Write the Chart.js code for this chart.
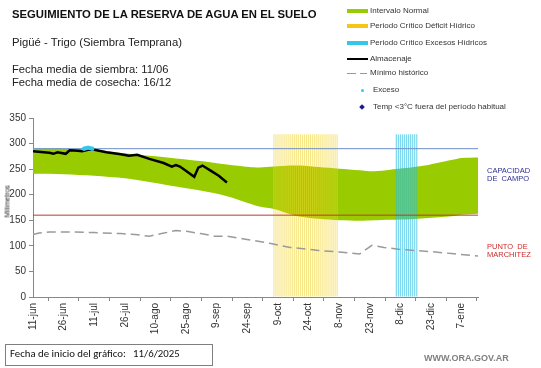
<!DOCTYPE html>
<html>
<head>
<meta charset="utf-8">
<script src="https://cdn.jsdelivr.net/npm/chart.js@4"></script>
<style>
  body { margin: 0; background: #fff; }
  #wrap { position: relative; width: 541px; height: 368px; font-family: Arial, "Liberation Sans", sans-serif; }
  #chart { position: absolute; left: 0; top: 0; }
  .t { position: absolute; white-space: nowrap; line-height: 1; color: #111; }
  .lg { position: absolute; white-space: nowrap; line-height: 1; font-size: 8px; color: #333; }
  .sw { position: absolute; width: 21px; height: 4px; }
</style>
</head>
<body>
<div id="wrap">
  <canvas id="chart" width="541" height="368"></canvas>

  <div class="t" style="left:12px;top:9px;font-size:11.3px;font-weight:bold;">SEGUIMIENTO DE LA RESERVA DE AGUA EN EL SUELO</div>
  <div class="t" style="left:12px;top:37px;font-size:11.3px;color:#222;">Pigüé - Trigo (Siembra Temprana)</div>
  <div class="t" style="left:12px;top:64px;font-size:11.2px;color:#222;">Fecha media de siembra: 11/06</div>
  <div class="t" style="left:12px;top:77px;font-size:11.2px;color:#222;">Fecha media de cosecha: 16/12</div>

  <!-- legend -->
  <div class="sw" style="left:347px;top:9px;background:#99cc00;"></div>
  <div class="lg" style="left:370px;top:7px;">Intervalo Normal</div>
  <div class="sw" style="left:347px;top:24px;background:#f5c518;"></div>
  <div class="lg" style="left:370px;top:22px;">Periodo Crítico Déficit Hídrico</div>
  <div class="sw" style="left:347px;top:41px;background:#33c8e8;"></div>
  <div class="lg" style="left:370px;top:39px;">Periodo Crítico Excesos Hídricos</div>
  <div style="position:absolute;left:347px;top:58px;width:21px;height:2px;background:#000;"></div>
  <div class="lg" style="left:370px;top:55px;">Almacenaje</div>
  <div style="position:absolute;left:347px;top:73px;width:9px;height:1px;background:#999;"></div>
  <div style="position:absolute;left:360px;top:73px;width:7px;height:1px;background:#999;"></div>
  <div class="lg" style="left:370px;top:69px;">Mínimo histórico</div>
  <div style="position:absolute;left:361px;top:89px;width:3px;height:3px;border-radius:2px;background:#33c8e8;"></div>
  <div class="lg" style="left:373px;top:86px;">Exceso</div>
  <div style="position:absolute;left:360px;top:105px;width:4px;height:4px;background:#1a1a99;transform:rotate(45deg);"></div>
  <div class="lg" style="left:373px;top:103px;">Temp &lt;3°C fuera del período habitual</div>

  <!-- right side labels -->
  <div class="t" style="left:487px;top:167px;font-size:7.5px;color:#2e2e9a;">CAPACIDAD</div>
  <div class="t" style="left:487px;top:175px;font-size:7.5px;color:#2e2e9a;">DE&nbsp; CAMPO</div>
  <div class="t" style="left:487px;top:243px;font-size:7.5px;color:#cc2a2a;">PUNTO&nbsp; DE</div>
  <div class="t" style="left:487px;top:251px;font-size:7.5px;color:#cc2a2a;">MARCHITEZ</div>

  <!-- y title -->
  <div class="t" style="left:-8px;top:199px;width:30px;text-align:center;font-size:7px;color:#222;transform:rotate(-90deg);">Milímetros</div>

  <!-- footer -->
  <div style="position:absolute;left:5px;top:344px;width:206px;height:20px;border:1px solid #7f7f7f;"></div>
  <div class="t" style="left:10px;top:349px;font-size:10.8px;font-family:Carlito,Lato,'Open Sans',sans-serif;color:#111;">Fecha de inicio del gráfico:&nbsp;&nbsp; 11/6/2025</div>
  <div class="t" style="left:424px;top:354px;font-size:9px;font-weight:bold;color:#808080;">WWW.ORA.GOV.AR</div>
</div>

<script>
// x axis: days since 11-jun
const tickDays = [0, 15, 30, 45, 60, 75, 90, 105, 120, 135, 150, 165, 180, 195, 210];
const tickLabels = ["11-jun","26-jun","11-jul","26-jul","10-ago","25-ago","9-sep","24-sep","9-oct","24-oct","8-nov","23-nov","8-dic","23-dic","7-ene"];
const lastDay = 218;

// intervalo normal (band)
const bandDays  = [0, 15, 30, 45, 57, 70, 82, 95, 106, 111, 118, 126, 131, 140, 150, 160, 167, 175, 185, 192, 199, 205, 210, 218];
const bandUpper = [290, 290, 288, 281, 276, 271, 266, 259, 254, 253, 255, 257, 257, 254, 251, 248, 246, 249, 253, 257, 263, 268, 272, 273];
const bandLower = [241, 240, 237, 232, 225, 216, 208, 197, 183, 177, 172, 162, 157, 153, 150, 149, 150, 151, 152, 154, 156, 158, 161, 163];

// almacenaje
const storeDays = [0, 8, 10, 12, 16, 18, 22, 24, 27, 30, 36, 43, 47, 51, 57, 64, 68, 70, 72, 79, 81, 83, 87, 91, 95];
const storeVals = [285, 282, 280, 283, 280, 287, 286, 285, 288, 288, 283, 279, 276, 278, 270, 262, 255, 258, 255, 235, 253, 257, 247, 237, 224];

// exceso
const excessPtDays = [25, 26, 27, 28, 29];
const excessPtVals = [290, 291, 292, 291, 290];

// minimo historico
const minDays = [0, 3, 8, 20, 30, 43, 50, 57, 63, 70, 76, 82, 89, 95, 104, 116, 126, 140, 150, 160, 166, 172, 180, 194, 205, 218];
const minVals = [122, 125, 127, 127, 126, 124, 122, 119, 124, 130, 128, 124, 119, 119, 113, 105, 97, 91, 88, 84, 101, 97, 93, 89, 85, 80];

// periodos criticos
const deficitDays = [118,119,120,121,122,123,124,125,126,127,128,129,130,131,132,133,134,135,136,137,138,139,140,141,142,143,144,145,146,147,148,149];
const excessDays = [178,179,180,181,182,183,184,185,186,187,188];
const periodTop = 318;

// reference levels
const capacidadCampo = 290;
const puntoMarchitez = 160;

const pts = (xs, ys) => xs.map((x, i) => ({ x: x, y: ys[i] }));

const config = {
  type: "line",
  data: {
    datasets: [
      { label: "upper", data: pts(bandDays, bandUpper), borderWidth: 0, pointRadius: 0,
        backgroundColor: "#99cc00", fill: "+1", tension: 0.3, order: 10 },
      { label: "lower", data: pts(bandDays, bandLower), borderWidth: 0, pointRadius: 0,
        fill: false, tension: 0.3, order: 10 },
      { type: "bar", label: "deficit", data: deficitDays.map(d => ({ x: d, y: periodTop })), grouped: false,
        backgroundColor: "rgba(242, 212, 40, 0.55)", barPercentage: 0.6, categoryPercentage: 1, order: 5 },
      { type: "bar", label: "excesos", data: excessDays.map(d => ({ x: d, y: periodTop })), grouped: false,
        backgroundColor: "rgba(40, 190, 228, 0.6)", barPercentage: 0.6, categoryPercentage: 1, order: 5 },
      { label: "cc", data: pts([0, lastDay], [capacidadCampo, capacidadCampo]), borderColor: "#6d8fc9",
        borderWidth: 1, pointRadius: 0, order: 3 },
      { label: "pm", data: pts([0, lastDay], [puntoMarchitez, puntoMarchitez]), borderColor: "#c0392b",
        borderWidth: 1, pointRadius: 0, order: 3 },
      { label: "min", data: pts(minDays, minVals), borderColor: "#9a9a9a", borderWidth: 1.5,
        borderDash: [9, 5], pointRadius: 0, order: 2 },
      { label: "almacenaje", data: pts(storeDays, storeVals), borderColor: "#000", borderWidth: 2.5,
        pointRadius: 0, order: 1 },
      { label: "exceso", data: pts(excessPtDays, excessPtVals), showLine: false, pointRadius: 2.2,
        pointBorderWidth: 0, pointBackgroundColor: "#33c8e8", order: 0 }
    ]
  },
  options: {
    responsive: false,
    animation: false,
    layout: { padding: { top: 118, right: 63, left: 0, bottom: 0 } },
    scales: {
      x: {
        type: "linear", min: 0, max: lastDay, offset: false,
        afterBuildTicks: s => { s.ticks = tickDays.map(d => ({ value: d })); },
        afterFit: s => { s.height = 71; },
        ticks: {
          minRotation: 90, maxRotation: 90, padding: 2, color: "#333",
          font: { family: "Arial, 'Liberation Sans'", size: 10 },
          callback: (v) => tickLabels[tickDays.indexOf(v)]
        },
        grid: { drawOnChartArea: false, drawTicks: true, tickLength: 4, color: "#888" },
        border: { display: true, color: "#888" }
      },
      y: {
        min: 0, max: 350,
        afterFit: s => { s.width = 33; },
        ticks: { stepSize: 50, padding: 3, color: "#333", font: { family: "Arial, 'Liberation Sans'", size: 10 } },
        grid: { drawOnChartArea: false, drawTicks: true, tickLength: 4, color: "#888" },
        border: { display: true, color: "#888" }
      }
    },
    plugins: {
      legend: { display: false },
      tooltip: { enabled: false }
    }
  }
};

new Chart(document.getElementById("chart"), config);
</script>
</body>
</html>
